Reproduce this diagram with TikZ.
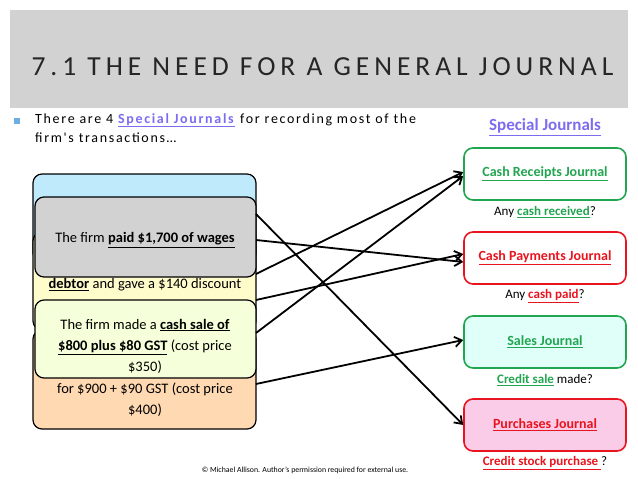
\documentclass[tikz,border=0pt]{standalone}
\usepackage{fontspec}
\setmainfont{Carlito}
\newfontfamily\spaced[LetterSpace=18]{Carlito}
\newfontfamily\spacedb[LetterSpace=12]{Carlito}
\usetikzlibrary{arrows.meta}
\definecolor{gr}{HTML}{22A550}
\definecolor{rd}{HTML}{E8141E}
\definecolor{pu}{HTML}{7B6CF0}
\newcommand{\ul}[1]{\underline{\textbf{#1}}}
\begin{document}
\begin{tikzpicture}[x=1pt,y=-1pt,
 lbox/.style={draw=black,line width=1.2pt,rounded corners=9pt},
 jbox/.style={line width=1.6pt,rounded corners=9pt,minimum width=162pt,minimum height=52pt,font=\fontsize{14}{16}\selectfont},
 arr/.style={line width=1.8pt,-{Straight Barb[length=7pt,width=10pt]}},
 q/.style={font=\fontsize{13}{15}\selectfont}]
\useasboundingbox (0,0) rectangle (638,479);
\fill[gray!35] (10,10) rectangle (628,108);
\node[anchor=west,text=black!85,font=\fontsize{27.5}{30}\spaced] (title) at (28,67) {7.1 THE NEED FOR A GENERAL JOURNAL};
\fill[cyan!70!blue!60] (14,118) rectangle (20,124);
\node[anchor=north west,align=left,font=\fontsize{14}{19}\spacedb,inner sep=0pt] (intro) at (35,113)
 {There are 4 {\color{pu}\ul{Special Journals}} for recording most of the\\firm's transactions\dots};
% left stacked boxes
\draw[lbox,fill=cyan!25] (33,174) rectangle (256,262);
\draw[lbox,fill=yellow!20] (33,232) rectangle (256,330);
\draw[lbox,fill=orange!30] (33,330) rectangle (256,429);
\draw[lbox,fill=gray!35] (35,197) rectangle (256,277);
\draw[lbox,fill=lime!15] (35,300) rectangle (256,378);
\node[font=\fontsize{14.5}{17}\selectfont] (t1) at (145,240) {The firm \ul{paid \$1,700 of wages}};
\node[font=\fontsize{14.5}{17}\selectfont] (t2) at (145,285) {\ul{debtor} and gave a \$140 discount};
\node[font=\fontsize{14.5}{21}\selectfont,align=center] (t3) at (145,346) {The firm made a \ul{cash sale of}\\\ul{\$800 plus \$80 GST} (cost price\\\$350)};
\node[font=\fontsize{14.5}{21}\selectfont,align=center] (t4) at (145,400) {for \$900 + \$90 GST (cost price\\\$400)};
% journals
\node[font=\fontsize{17}{19}\selectfont,text=pu] (sj) at (545,127) {\ul{Special Journals}};
\node[jbox,draw=gr,fill=white,text=gr] (cr) at (545,174) {\ul{Cash Receipts Journal}};
\node[q] (q1) at (545,212) {Any {\color{gr}\ul{cash received}}?};
\node[jbox,draw=rd,fill=white,text=rd] (cp) at (545,258) {\ul{Cash Payments Journal}};
\node[q] (q2) at (545,296) {Any {\color{rd}\ul{cash paid}}?};
\node[jbox,draw=gr,fill=green!20!cyan!12,text=gr] (sa) at (545,342) {\ul{Sales Journal}};
\node[q] (q3) at (545,380) {{\color{gr}\ul{Credit sale}} made?};
\node[jbox,draw=rd,fill=magenta!20,text=rd] (pj) at (545,425) {\ul{Purchases Journal}};
\node[q] (q4) at (545,463) {{\color{rd}\ul{Credit stock purchase }}?};
% connectors
\coordinate (s1) at (256,214); \coordinate (s2) at (256,240);
\coordinate (s3) at (256,274); \coordinate (s4) at (256,300);
\coordinate (s5) at (256,333); \coordinate (s6) at (256,384);
\draw[arr] (s1) -- (pj.west);
\draw[arr] (s2) -- ([yshift=-4pt]cp.west);
\draw[arr] (s3) -- ([yshift=2pt]cr.west);
\draw[arr] (s4) -- ([yshift=4pt]cp.west);
\draw[arr] (s5) -- ([yshift=-2pt]cr.west);
\draw[arr] (s6) -- ([yshift=2pt]sa.west);
\node[font=\fontsize{7.8}{9}\selectfont] (foot) at (305,470) {© Michael Allison. Author's permission required for external use.};
\end{tikzpicture}
\end{document}
